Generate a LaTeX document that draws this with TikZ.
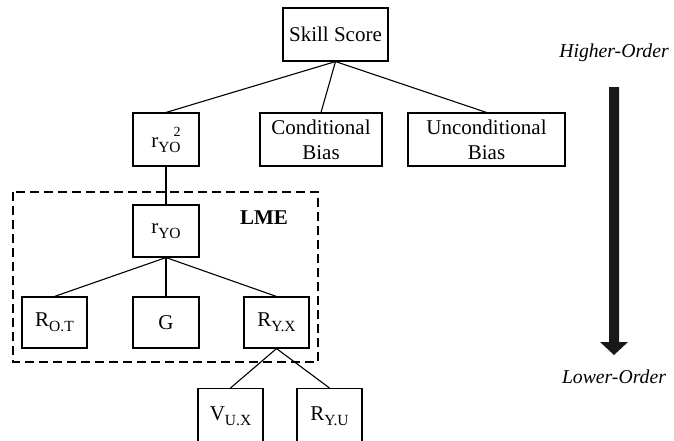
\documentclass[tikz,border=0pt]{standalone}
\usepackage{fontspec}
\setmainfont{Liberation Serif}
% lowered index text, as used in the variable names
\newcommand\idx[1]{\raisebox{-5pt}{\fontsize{15.5}{16}\selectfont #1}}
\begin{document}
\begin{tikzpicture}[x=1pt,y=-1pt,
  every node/.style={font=\fontsize{21}{25}\selectfont},
  box/.style={draw, line width=1.1pt, inner sep=0pt, align=center,
              minimum height=53pt},
  link/.style={line width=1.1pt},
  regionbox/.style={draw, line width=1.1pt, dash pattern=on 9pt off 5pt},
  ordertext/.style={font=\fontsize{19.7}{23}\selectfont\itshape},
]
\useasboundingbox (0,0) rectangle (674,440);
\clip (0,0) rectangle (674,440);

% top level
\node[box, minimum width=105pt] (skill) at (335.5,34.5) {Skill Score};
\node[box, minimum width=66pt]  (rsq)   at (166,139.5)
  {r\idx{YO}\hspace{-7pt}\raisebox{11pt}{\fontsize{14}{15}\selectfont 2}};
\node[box, minimum width=122pt] (cond)  at (321,139.5) {Conditional\\Bias};
\node[box, minimum width=157pt] (uncond) at (486.5,139.5) {Unconditional\\Bias};

% LME group
\draw[regionbox] (13,192) rectangle (318,362);
\node[font=\fontsize{21}{25}\selectfont\bfseries] (lme) at (264,218) {LME};
\node[box, minimum width=66pt, minimum height=52pt] (ryo) at (166,231) {r\idx{YO}};
\node[box, minimum width=65pt, minimum height=51pt] (rot) at (54.5,322.5) {R\idx{O.T}};
\node[box, minimum width=66pt, minimum height=51pt] (g)   at (166,322.5) {G};
\node[box, minimum width=65pt, minimum height=51pt] (ryx) at (276.5,322.5) {R\idx{Y.X}};

% lowest level
\node[box, minimum width=65pt, minimum height=60pt, anchor=north] (vux) at (230.5,388) {\raisebox{10pt}{V\idx{U.X}}};
\node[box, minimum width=65pt, minimum height=60pt, anchor=north] (ryu) at (329.5,388) {\raisebox{10pt}{R\idx{Y.U}}};

% connectors
\draw[link] (skill.south) -- (rsq.north);
\draw[link] (skill.south) -- (cond.north);
\draw[link] (skill.south) -- (uncond.north);
\draw[link] (rsq.south) -- (ryo.north);
\draw[link] (ryo.south) -- (rot.north);
\draw[link] (ryo.south) -- (g.north);
\draw[link] (ryo.south) -- (ryx.north);
\draw[link] (ryx.south) -- (vux.north);
\draw[link] (ryx.south) -- (ryu.north);

% order arrow
\node[ordertext] (high) at (614,53) {Higher-Order};
\node[ordertext] (low)  at (614,377) {Lower-Order};
\fill[black!90] (609,87) -- (619,87) -- (619,342) -- (628,342) -- (614,355)
  -- (600,342) -- (609,342) -- cycle;
\end{tikzpicture}
\end{document}
